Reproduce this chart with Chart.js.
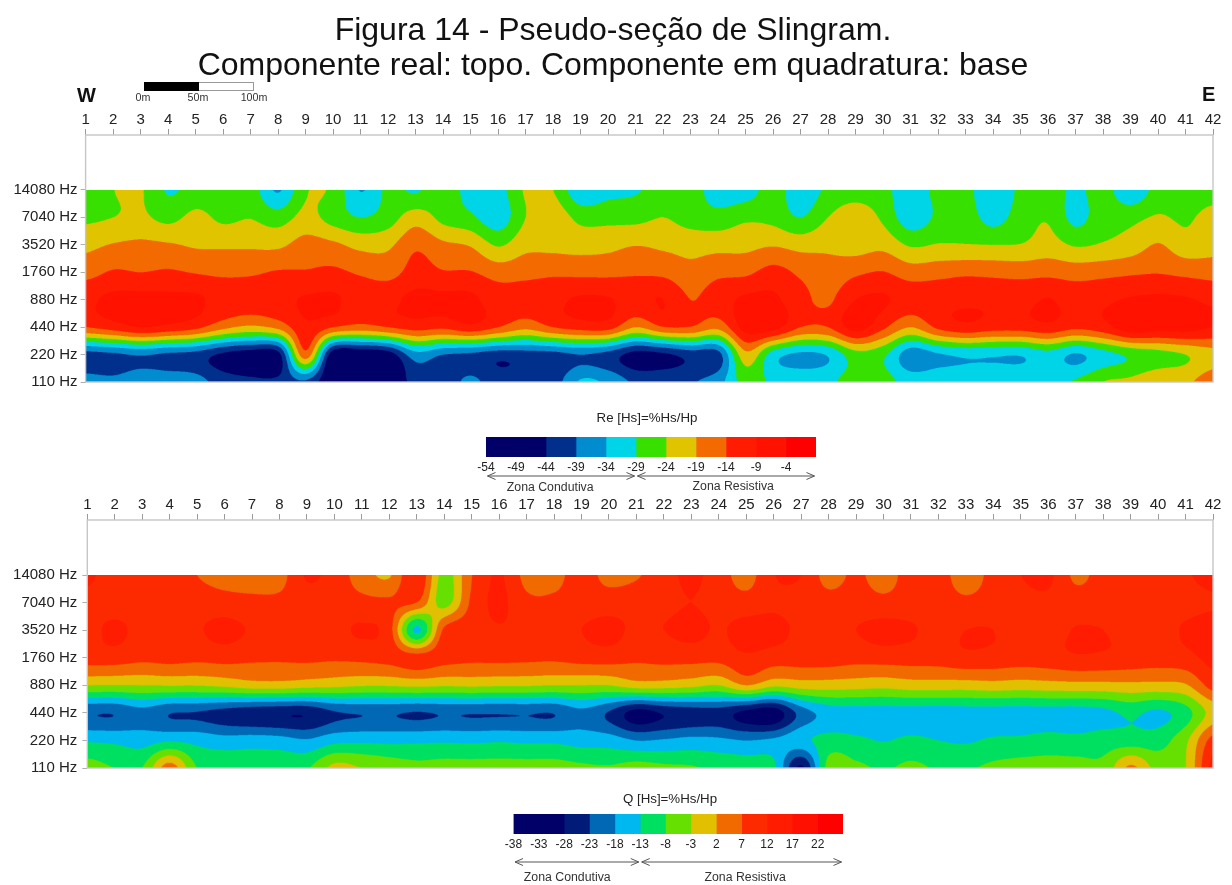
<!DOCTYPE html>
<html lang="pt"><head><meta charset="utf-8"><title>Pseudo-seção de Slingram</title>
<script src="https://cdn.jsdelivr.net/npm/chart.js@4/dist/chart.umd.min.js"></script>
<style>
html,body{margin:0;padding:0;background:#fff;width:1232px;height:885px;overflow:hidden;font-family:"Liberation Sans",Arial,sans-serif}
canvas{position:absolute}
.t{position:absolute;color:#111;white-space:nowrap;line-height:1}
.b{position:absolute}
</style></head><body>
<canvas id="reChart" style="left:0px;top:0px" width="1232" height="394"></canvas>
<canvas id="qChart" style="left:0px;top:485px" width="1232" height="297"></canvas>
<canvas id="reBar" style="left:428px;top:410px" width="440" height="90"></canvas>
<canvas id="qBar" style="left:447px;top:791px" width="446" height="94"></canvas>
<div class="t" style="left:77px;top:85px;font-size:20px;font-weight:bold">W</div>
<div class="t" style="left:1202px;top:84px;font-size:20px;font-weight:bold">E</div>
<div class="b" style="left:144px;top:82px;width:54px;height:7px;background:#000;border:1px solid #000;border-right:0"></div>
<div class="b" style="left:199px;top:82px;width:54px;height:7px;background:#fff;border:1px solid #999;border-left:0"></div>
<div class="t" style="left:143px;top:92px;font-size:10.7px;color:#333;transform:translateX(-50%)">0m</div>
<div class="t" style="left:198px;top:92px;font-size:10.7px;color:#333;transform:translateX(-50%)">50m</div>
<div class="t" style="left:254px;top:92px;font-size:10.7px;color:#333;transform:translateX(-50%)">100m</div>
<script>
const stations=[1,2,3,4,5,6,7,8,9,10,11,12,13,14,15,16,17,18,19,20,21,22,23,24,25,26,27,28,29,30,31,32,33,34,35,36,37,38,39,40,41,42];
const freqLabels=['110 Hz','220 Hz','440 Hz','880 Hz','1760 Hz','3520 Hz','7040 Hz','14080 Hz'];

const re110=[-37,-38,-36,-36,-37,-41.5,-43,-43,-40,-50,-52,-50,-42,-42,-38,-42,-42,-41.5,-33.5,-35,-40,-40,-39.5,-36,-27,-30,-30.5,-30,-26.5,-27,-31,-30.5,-30.5,-29.5,-29.5,-29.5,-28.5,-24,-23,-20,-20,-16];
const re220=[-41,-40,-38.5,-40,-41,-45,-47,-46,-16,-48,-49,-47,-36,-39,-40,-42,-41.5,-41,-39,-41,-46,-45,-42,-41,-20.5,-31.5,-35,-33.5,-26,-28,-37,-34.5,-33.1,-33.4,-33.6,-31,-34.5,-31,-28,-26,-24,-21];
const re440=[-14,-11.7,-9,-10.4,-12.7,-17.6,-20,-17.6,-10,-14,-16,-14,-12,-13,-10.5,-14,-17.6,-14,-12,-12,-19,-14.3,-14.3,-17.6,-7,-7,-14,-14,-7,-13,-19,-13,-10.5,-12,-12,-10.5,-13,-11,-6,-7,-7,-9];
const re880=[-9.8,-8,-7.5,-8,-8.3,-10.5,-11,-10.5,-8.5,-8.5,-10.5,-10,-8,-8,-8,-11.5,-11.5,-10,-8.5,-8.7,-10.5,-9,-14,-11.5,-8,-8,-12.5,-14.8,-9,-8.5,-11,-10.5,-10,-10,-10.5,-8.8,-11,-10,-8.5,-8,-8.5,-10];
const re1760=[-15.9,-13.5,-14,-13.4,-14.3,-15,-14.7,-13.6,-13.6,-13,-14.7,-16,-12,-13.6,-13.7,-16.2,-15.6,-15,-15.3,-15.3,-14.7,-15.2,-17.5,-15.3,-15,-12.3,-15,-17.3,-15,-13.8,-16.5,-15.8,-15,-15.4,-15.7,-15.4,-16.2,-15.6,-14.8,-14.3,-15.3,-15.9];
const re3520=[-20.3,-18.7,-18,-18.5,-19.6,-19.8,-19.8,-20,-17,-18,-20.5,-20,-15,-18,-19.5,-24.5,-20.5,-20.3,-21,-20.5,-19.2,-20,-20.8,-20.8,-20.5,-19.4,-20.8,-20,-21,-20.5,-24.6,-23.7,-23.8,-24,-23.8,-22,-24.5,-23.5,-21.8,-18.7,-22,-21];
const re7040=[-25,-24,-23,-25.5,-22.7,-25,-24.2,-26.5,-22.5,-26,-29,-26.5,-21.5,-25.5,-28,-32,-24,-21,-25.5,-25.5,-25.5,-24,-26,-27,-25,-25.5,-29,-24,-21,-25,-32,-28,-26.5,-31,-26.5,-24.5,-30.5,-26,-25.5,-23.5,-24.8,-22];
const re14080=[-27,-24.1,-23.6,-29.5,-27,-26.5,-26.5,-34.5,-24.5,-25,-34.2,-28,-29.6,-26,-31,-31,-23.5,-24,-33,-30.5,-29.5,-27,-26.5,-32,-31.5,-27,-32,-28,-26.5,-27.5,-32,-27.5,-27.5,-33,-28,-26.5,-30,-27,-33,-27,-27,-26.5];

const q110=[-6,-8,-8,4.5,-8,-8.5,-9,-9,-8.5,-1.5,-3,-5,-6.5,-6,-6,-6,-6,-6,-7,-7.5,-6,-7,-7.5,-9,-10,-12,-29,-6,-7,-8.5,-7,-8.5,-8.5,-7,-6,-6,-6,-6.5,3,-5,-3,14];
const q220=[-13.5,-14,-15,-13.5,-14.5,-16,-15.5,-16,-17.5,-14.5,-14,-14.2,-14,-13.7,-14,-13.5,-14,-14,-15,-15.5,-18,-17.5,-16.5,-17,-18,-17,-14.5,-11,-12,-13.2,-12,-13,-13.5,-12.3,-12,-11,-11.5,-10.5,-10.5,-10,-4,9];
const q440=[-22.6,-22.7,-20,-22.8,-23.3,-25,-26.5,-27.3,-27.3,-23.5,-22.7,-22.5,-23.3,-22.6,-22.8,-22.8,-22.7,-22.8,-19.5,-23.5,-30,-27.5,-26,-25.5,-29.5,-31,-21,-16,-15.5,-15.5,-15.5,-15.8,-15.5,-15.5,-15.5,-15.3,-15.5,-14.5,-12,-14,-10,-1];
const q880=[-3,-3.2,-3,-2.8,-2.8,-2,-0.5,-0.3,-1.2,-1.8,-2.6,-2.6,-2,-2.5,-2.2,-2.5,-2.6,-3,-3,-3,-0.6,-0.7,-1.7,-3,2,-2,-0.7,-0.5,-1,-1.5,-0.5,-0.5,-0.5,0,-0.5,0,0.3,0.4,0.7,0.5,1.5,9];
const q1760=[9.5,9.5,8.3,8.8,8.3,8.8,8,7.8,8.1,7.8,8.3,9,9,9,8.3,8.5,8.2,8,9,9.2,8,8.5,8.7,8.6,11,9.5,9.5,9.5,8.8,9.2,9.3,9.3,10.7,10.3,9.5,10,11.3,11,10.2,9.5,10.5,13.5];
const q3520=[10.5,13,10.5,10.5,11.5,13.5,11.5,10.5,10.5,10.5,12.5,9,-14,8,10,11.5,10.5,10.5,12,13.5,11,12,13.5,11.5,14,13.5,11,10.5,12,13.5,12.5,10.5,12,12,10.5,10.5,12.2,12,10.5,10.5,12.5,14];
const q7040=[10.5,9.5,9.5,9.5,9.5,9,8.3,8.3,10,9.5,8.5,8,7,-5,8,13,8.2,8,9.5,9.5,10,10.5,12,10,9,11,10,9,9.5,8.5,9.5,9.5,8.2,9.5,10.5,11,9.5,9.5,9.5,9.5,10.5,11.5];
const q14080=[13,9.5,9.5,9.5,7,5,4.5,5,12.5,10,4.5,1.5,12,-5,6.8,12.5,5.5,5.5,9,5.5,6.5,10,13,9.5,5,11.8,12,5,8,4.5,9.5,9.5,4,9,12,13,6,9,9.5,9.5,11.5,13.5];

const reBreaks=[-54,-49,-44,-39,-34,-29,-24,-19,-14,-9,-4,1];
const reColors=['#000068','#000068','#00308c','#008ccf','#00d5e8','#38e000','#e0c400','#f26a00','#ff1c00','#ff1200','#ff0000'];
const qBreaks=[-38,-33,-28,-23,-18,-13,-8,-3,2,7,12,17,22,27];
const qColors=['#000068','#000068','#001c78','#0068b4','#00b8f0','#00e060','#66e000','#e0c000','#f06a00','#fd2a00','#ff1c00','#ff1000','#ff0000'];

const FONT='"Liberation Sans", Arial, sans-serif';
const TXT='#222';

function toPoints(rows){
  const pts=[];
  rows.forEach((row,r)=>row.forEach((v,i)=>pts.push({x:stations[i],y:r,v})));
  return pts;
}
function rgb(h){return [parseInt(h.slice(1,3),16),parseInt(h.slice(3,5),16),parseInt(h.slice(5,7),16)];}
function cr(a,b,c,d,t){return b+0.5*t*(c-a+t*(2*a-5*b+4*c-d+t*(3*(b-c)+d-a)));}

const contourPlugin={
  id:'contourBands',
  beforeDatasetsDraw(chart,args,opts){
    const pts=chart.data.datasets[0].data, sx=chart.scales.x, sy=chart.scales.y;
    const nx=stations.length, ny=freqLabels.length;
    const g=[]; for(let r=0;r<ny;r++)g.push(new Array(nx));
    pts.forEach(p=>{g[p.y][p.x-1]=p.v;});
    const SS=3, left=sx.getPixelForValue(1), right=sx.getPixelForValue(42), top=sy.getPixelForValue(7), bot=sy.getPixelForValue(0);
    const W=Math.round((right-left)*SS), H=Math.round((bot-top)*SS);
    const off=document.createElement('canvas'); off.width=W; off.height=H;
    const oc=off.getContext('2d'), im=oc.createImageData(W,H), d=im.data;
    const cols=opts.colors.map(rgb), br=opts.breaks;
    const xv=new Float64Array(W), yv=new Float64Array(H);
    for(let i=0;i<W;i++)xv[i]=Math.min(41,Math.max(0,sx.getValueForPixel(left+(i+.5)/SS)-1));
    for(let j=0;j<H;j++)yv[j]=Math.min(7,Math.max(0,sy.getValueForPixel(top+(j+.5)/SS)));
    const cl=(v,m)=>v<0?0:v>m?m:v;
    for(let j=0;j<H;j++){
      const y=yv[j], r1=Math.min(6,Math.floor(y)), ty=y-r1;
      const rs=[g[cl(r1-1,7)],g[r1],g[r1+1],g[cl(r1+2,7)]];
      for(let i=0;i<W;i++){
        const x=xv[i], i1=Math.min(40,Math.floor(x)), tx=x-i1;
        const i0=cl(i1-1,41), i2=i1+1, i3=cl(i1+2,41);
        const c=[0,1,2,3].map(k=>cr(rs[k][i0],rs[k][i1],rs[k][i2],rs[k][i3],tx));
        const v=cr(c[0],c[1],c[2],c[3],ty);
        let b=0; while(b<cols.length-1&&v>=br[b+1])b++;
        const o=(j*W+i)*4, cc=cols[b];
        d[o]=cc[0];d[o+1]=cc[1];d[o+2]=cc[2];d[o+3]=255;
      }
    }
    oc.putImageData(im,0,0);
    const ctx=chart.ctx; ctx.save(); ctx.imageSmoothingEnabled=true; ctx.imageSmoothingQuality='high';
    ctx.drawImage(off,left,top,right-left,bot-top); ctx.restore();
  },
  afterDraw(chart){
    const a=chart.chartArea, ctx=chart.ctx;
    ctx.save(); ctx.strokeStyle='#c6c6c6'; ctx.lineWidth=1.4;
    ctx.strokeRect(a.left,a.top,a.right-a.left,a.bottom-a.top); ctx.restore();
  }
};

function panel(id,rows,breaks,colors,yWidth,leftPad,bottomPad,yPad,title){
  const plugins={legend:{display:false},tooltip:{enabled:false},contourBands:{breaks,colors}};
  plugins.title=title?{display:true,text:title,color:'#111',align:'center',
    font:{family:FONT,size:32,weight:'normal',lineHeight:1.094},padding:{top:14,bottom:16}}:{display:false};
  return new Chart(document.getElementById(id),{
    type:'scatter',
    data:{datasets:[{data:toPoints(rows),pointRadius:0,showLine:false}]},
    plugins:[contourPlugin],
    options:{responsive:false,animation:false,devicePixelRatio:1,
      layout:{padding:{left:leftPad,right:19,top:0,bottom:bottomPad}},
      plugins,
      scales:{
        x:{type:'linear',position:'top',min:1,max:42,
          afterFit(s){s.height=35;},
          afterBuildTicks(s){s.ticks=stations.map(v=>({value:v}));},
          border:{display:false},
          grid:{drawOnChartArea:false,tickLength:6,tickColor:'#9a9a9a',tickWidth:1},
          ticks:{autoSkip:false,maxRotation:0,minRotation:0,padding:0,color:TXT,font:{family:FONT,size:15},callback:v=>String(v)}},
        y:{type:'linear',min:0,max:9,
          afterFit(s){s.width=yWidth;},
          afterBuildTicks(s){s.ticks=freqLabels.map((l,i)=>({value:i}));},
          border:{display:false},
          grid:{drawOnChartArea:false,tickLength:5,tickColor:'#b0b0b0',tickWidth:1},
          ticks:{autoSkip:false,padding:yPad,color:TXT,font:{family:FONT,size:15},callback:v=>freqLabels[v]}}
      }}
  });
}
panel('reChart',[re110,re220,re440,re880,re1760,re3520,re7040,re14080],reBreaks,reColors,72.6,13,12,3,
  ['Figura 14 - Pseudo-seção de Slingram.','Componente real: topo. Componente em quadratura: base']);
panel('qChart',[q110,q220,q440,q880,q1760,q3520,q7040,q14080],qBreaks,qColors,87.3,0,12,5,null);

const zonePlugin={
  id:'zones',
  afterDraw(chart,args,o){
    const ctx=chart.ctx, x=chart.scales.x, b=chart.chartArea.bottom;
    ctx.save(); ctx.strokeStyle='#555'; ctx.fillStyle='#333'; ctx.lineWidth=1;
    ctx.font='12.3px '+FONT; ctx.textAlign='center'; ctx.textBaseline='middle';
    o.zones.forEach(z=>{
      const a1=x.getPixelForValue(z.from)+1.5, a2=x.getPixelForValue(z.to)-1.5, y=b+o.arrowY;
      ctx.beginPath(); ctx.moveTo(a1,y); ctx.lineTo(a2,y);
      ctx.moveTo(a1+8,y-3.5); ctx.lineTo(a1,y); ctx.lineTo(a1+8,y+3.5);
      ctx.moveTo(a2-8,y-3.5); ctx.lineTo(a2,y); ctx.lineTo(a2-8,y+3.5);
      ctx.stroke();
      ctx.fillText(z.label,x.getPixelForValue(z.labelAt),b+z.labelY);
    });
    ctx.restore();
  }
};
function colorBar(id,title,breaks,colors,yW,leftPad,rightPad,titleBottom,bottomPad,zoneOpts){
  const ticks=breaks.slice(0,-1);
  new Chart(document.getElementById(id),{
    type:'bar',
    data:{labels:[title],datasets:colors.map((c,i)=>({data:[[breaks[i],breaks[i+1]]],backgroundColor:c,borderWidth:0,grouped:false,barPercentage:1,categoryPercentage:1}))},
    plugins:[zonePlugin],
    options:{indexAxis:'y',responsive:false,animation:false,devicePixelRatio:1,
      layout:{padding:{left:leftPad,right:rightPad,top:0,bottom:bottomPad}},
      plugins:{legend:{display:false},tooltip:{enabled:false},zones:zoneOpts,
        title:{display:true,text:title,color:TXT,font:{family:FONT,size:13.3,weight:'normal',lineHeight:1.083},padding:{top:1,bottom:titleBottom}}},
      scales:{
        x:{type:'linear',min:breaks[0],max:breaks[breaks.length-1],
          afterFit(s){s.height=20;},
          afterBuildTicks(s){s.ticks=ticks.map(v=>({value:v}));},
          border:{display:false},grid:{display:false,drawTicks:false},
          ticks:{autoSkip:false,maxRotation:0,padding:3,color:TXT,font:{family:FONT,size:12},callback:v=>String(v)}},
        y:{type:'category',afterFit(s){s.width=yW;},border:{display:false},grid:{display:false,drawTicks:false},ticks:{display:false}}
      }}
  });
}
colorBar('reBar','Re [Hs]=%Hs/Hp',reBreaks,reColors,8,50,52,11.6,23,{arrowY:19,zones:[
  {from:-54,to:-29,label:'Zona Condutiva',labelAt:-43.3,labelY:31},
  {from:-29,to:1,label:'Zona Resistiva',labelAt:-12.8,labelY:30}]});
colorBar('qBar','Q [Hs]=%Hs/Hp',qBreaks,qColors,16.5,50,50,7.6,31,{arrowY:28,zones:[
  {from:-38,to:-13,label:'Zona Condutiva',labelAt:-27.4,labelY:44},
  {from:-13,to:27,label:'Zona Resistiva',labelAt:7.7,labelY:44}]});
</script>
</body></html>
